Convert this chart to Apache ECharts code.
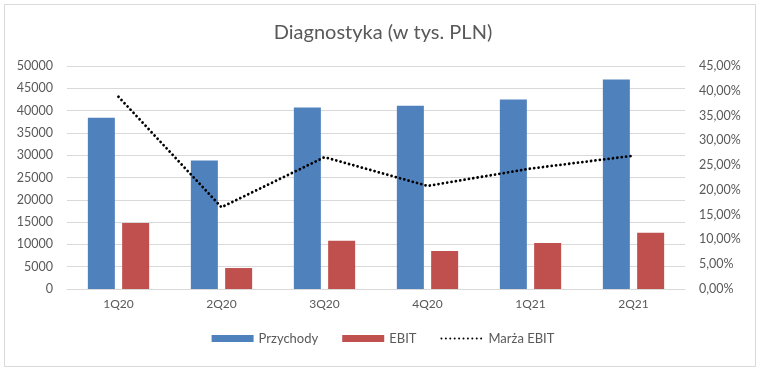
<!DOCTYPE html>
<html>
<head>
<meta charset="utf-8">
<script src="https://cdn.jsdelivr.net/npm/echarts@6/dist/echarts.min.js"></script>
<style>
  html, body { margin: 0; padding: 0; background: #fff; }
  #frame { position: absolute; left: 4px; top: 4px; width: 750px; height: 361px; border: 1px solid #d9d9d9; }
  #chart { position: absolute; left: 0; top: 0; width: 766px; height: 376px; }
</style>
</head>
<body>
<div id="frame"></div>
<div id="chart"></div>
<script>
// values
const quarters = ["1Q20", "2Q20", "3Q20", "4Q20", "1Q21", "2Q21"];
const przychody = [38400, 28800, 40700, 41100, 42500, 47000];
const ebit = [14800, 4700, 10800, 8500, 10300, 12600];
const marza = [38.8, 16.5, 26.6, 20.8, 24.3, 26.9];

const textColor = "#595959";
const font = "Lato, 'Open Sans', sans-serif";

const chart = echarts.init(document.getElementById("chart"));

chart.setOption({
  animation: false,
  title: {
    text: "Diagnostyka (w tys. PLN)",
    left: "center",
    top: 18,
    textStyle: { fontFamily: font, fontSize: 20, fontWeight: "normal", color: textColor },
  },
  legend: {
    bottom: 26,
    left: "center",
    itemWidth: 42,
    itemHeight: 7,
    itemGap: 24,
    data: [
      { name: "Przychody", icon: "rect" },
      { name: "EBIT", icon: "rect" },
      { name: "Marża EBIT", itemStyle: { opacity: 0 } },
    ],
    textStyle: { fontFamily: font, fontSize: 13, color: textColor },
  },
  grid: { left: 67, right: 81, top: 66, bottom: 87 },
  xAxis: {
    type: "category",
    data: quarters,
    axisLine: { lineStyle: { color: "#d9d9d9" } },
    axisTick: { show: false },
    axisLabel: { fontFamily: font, fontSize: 12, color: textColor, margin: 9 },
  },
  yAxis: [
    {
      type: "value",
      min: 0,
      max: 50000,
      interval: 5000,
      axisLine: { show: false },
      axisTick: { show: false },
      splitLine: { lineStyle: { color: "#d9d9d9" } },
      axisLabel: {
        fontFamily: font,
        fontSize: 12.5,
        color: textColor,
        margin: 14,
        formatter: (v) => String(v),
      },
    },
    {
      type: "value",
      min: 0,
      max: 45,
      interval: 5,
      axisLine: { show: false },
      axisTick: { show: false },
      splitLine: { show: false },
      axisLabel: {
        fontFamily: font,
        fontSize: 12.5,
        color: textColor,
        margin: 14,
        formatter: (v) => v.toFixed(2).replace(".", ",") + "%",
      },
    },
  ],
  series: [
    {
      name: "Przychody",
      type: "bar",
      data: przychody,
      barWidth: 27,
      barGap: "27%",
      itemStyle: { color: "#4f81bd" },
    },
    {
      name: "EBIT",
      type: "bar",
      data: ebit,
      barWidth: 27,
      itemStyle: { color: "#c0504d" },
    },
    {
      name: "Marża EBIT",
      type: "line",
      yAxisIndex: 1,
      data: marza,
      symbol: "none",
      lineStyle: { color: "#000", width: 2.8, type: [0.01, 4.4], cap: "round" },
      itemStyle: { color: "#000" },
    },
  ],
});
</script>
</body>
</html>
